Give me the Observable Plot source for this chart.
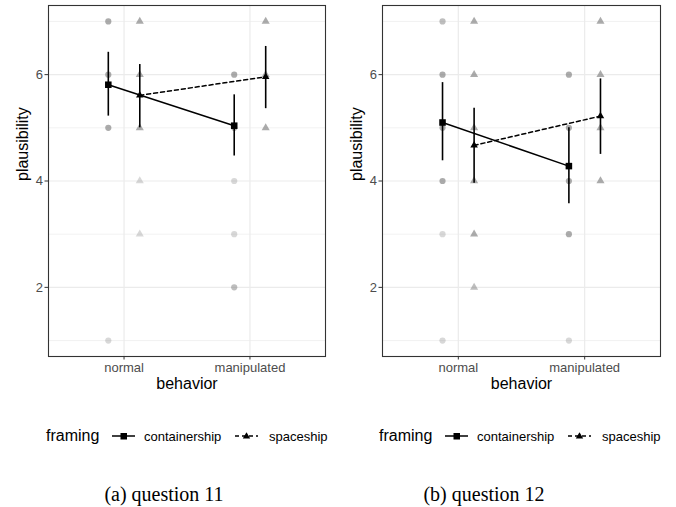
<!DOCTYPE html>
<html>
<head>
<meta charset="utf-8">
<script src="https://cdn.jsdelivr.net/npm/d3@7"></script>
<script src="https://cdn.jsdelivr.net/npm/@observablehq/plot@0.6"></script>
<style>
  html, body { margin: 0; padding: 0; background: #fff; }
  #root { position: relative; width: 676px; height: 507px; background: #fff; overflow: hidden;
          font-family: "Liberation Sans", Arial, Helvetica, sans-serif; }
  .panel { position: absolute; top: 0; }
  .abs { position: absolute; white-space: nowrap; line-height: 1; }
  .ltitle { font-size: 16px; color: #000; }
  .llabel { font-size: 13px; color: #000; }
  .caption { font-family: "Liberation Serif", "Times New Roman", serif; font-size: 20px; color: #000;
             transform: translateX(-50%); }
</style>
</head>
<body>
<div id="root"></div>
<script>
// ---------- data ----------
const behaviors = ["normal", "manipulated"];
const framings = ["containership", "spaceship"];
const yTicks = [2, 4, 6];
const yMinorTicks = [1, 3, 5, 7];
const captions = ["(a) question 11", "(b) question 12"];

// means and 95% CI, order [normal, manipulated]
const q11ContMean = [5.81, 5.04];
const q11ContLow  = [5.22, 4.47];
const q11ContHigh = [6.42, 5.62];
const q11SpaceMean = [5.61, 5.96];
const q11SpaceLow  = [5.00, 5.36];
const q11SpaceHigh = [6.19, 6.53];

const q12ContMean = [5.10, 4.28];
const q12ContLow  = [4.38, 3.57];
const q12ContHigh = [5.85, 5.00];
const q12SpaceMean = [4.67, 5.22];
const q12SpaceLow  = [3.96, 4.50];
const q12SpaceHigh = [5.37, 5.92];

// raw responses: [rating, number of overlapping responses]
const q11ContNormal  = [[7, 3], [6, 3], [5, 3], [1, 1]];
const q11ContManip   = [[6, 3], [5, 3], [4, 1], [3, 1], [2, 2]];
const q11SpaceNormal = [[7, 3], [6, 3], [5, 3], [4, 1], [3, 1]];
const q11SpaceManip  = [[7, 3], [6, 3], [5, 3]];

const q12ContNormal  = [[7, 2], [6, 3], [5, 3], [4, 3], [3, 1], [1, 1]];
const q12ContManip   = [[6, 3], [5, 3], [4, 3], [3, 3], [1, 1]];
const q12SpaceNormal = [[7, 3], [6, 3], [5, 3], [4, 3], [3, 3], [2, 2]];
const q12SpaceManip  = [[7, 3], [6, 3], [5, 3], [4, 3]];

// ---------- build tables ----------
const dodge = {containership: -0.125, spaceship: 0.125};
function rawRows(contN, contM, spaceN, spaceM) {
  const rows = [];
  const add = (arr, framing, bi) => arr.forEach(([v, n]) =>
    rows.push({behavior: behaviors[bi], framing, x: bi + 1 + dodge[framing], value: v, n}));
  add(contN, "containership", 0); add(contM, "containership", 1);
  add(spaceN, "spaceship", 0); add(spaceM, "spaceship", 1);
  return rows;
}
function statRows(cm, cl, ch, sm, sl, sh) {
  const rows = [];
  behaviors.forEach((b, i) => {
    rows.push({behavior: b, framing: "containership", x: i + 1 + dodge.containership, mean: cm[i], lo: cl[i], hi: ch[i]});
  });
  behaviors.forEach((b, i) => {
    rows.push({behavior: b, framing: "spaceship", x: i + 1 + dodge.spaceship, mean: sm[i], lo: sl[i], hi: sh[i]});
  });
  return rows;
}
const q11Raw = rawRows(q11ContNormal, q11ContManip, q11SpaceNormal, q11SpaceManip);
const q12Raw = rawRows(q12ContNormal, q12ContManip, q12SpaceNormal, q12SpaceManip);
const q11Stats = statRows(q11ContMean, q11ContLow, q11ContHigh, q11SpaceMean, q11SpaceLow, q11SpaceHigh);
const q12Stats = statRows(q12ContMean, q12ContLow, q12ContHigh, q12SpaceMean, q12SpaceLow, q12SpaceHigh);

const FONT = '"Liberation Sans", Arial, Helvetica, sans-serif';

function panel(raw, stats, width) {
  const isC = d => d.framing === "containership";
  const isS = d => d.framing === "spaceship";
  return Plot.plot({
    width, height: 400,
    marginLeft: 48, marginRight: 13, marginTop: 5, marginBottom: 44,
    x: {domain: [0.4, 2.6]},
    y: {domain: [0.7, 7.3]},
    style: {fontFamily: FONT, background: "white", overflow: "visible"},
    marks: [
      Plot.gridY({ticks: yMinorTicks, stroke: "#ececec", strokeOpacity: 1, strokeWidth: 0.7}),
      Plot.gridY({ticks: yTicks, stroke: "#ebebeb", strokeOpacity: 1, strokeWidth: 1.2}),
      Plot.gridX({ticks: [1, 2], stroke: "#ebebeb", strokeOpacity: 1, strokeWidth: 1.2}),
      Plot.dot(raw.filter(isC), {x: "x", y: "value", symbol: "circle", r: 3.1, fill: "#7f7f7f",
        fillOpacity: d => 1 - Math.pow(0.7, d.n), stroke: null}),
      Plot.dot(raw.filter(isS), {x: "x", y: "value", symbol: "triangle", r: 3.0, fill: "#7f7f7f",
        fillOpacity: d => 1 - Math.pow(0.7, d.n), stroke: null}),
      Plot.line(stats.filter(isC), {x: "x", y: "mean", stroke: "black", strokeWidth: 1.5}),
      Plot.line(stats.filter(isS), {x: "x", y: "mean", stroke: "black", strokeWidth: 1.5, strokeDasharray: "4,3"}),
      Plot.ruleX(stats, {x: "x", y1: "lo", y2: "hi", stroke: "black", strokeWidth: 1.6}),
      Plot.dot(stats.filter(isC), {x: "x", y: "mean", symbol: "square", r: 3.7, fill: "black", stroke: null}),
      Plot.dot(stats.filter(isS), {x: "x", y: "mean", symbol: "triangle", r: 2.8, fill: "black", stroke: null}),
      Plot.frame({stroke: "#333", strokeWidth: 1.1}),
      Plot.axisX({ticks: [1, 2], tickFormat: d => behaviors[d - 1], tickSize: 3.5, tickPadding: 3,
        fontSize: 13, stroke: "#333", fill: "#4d4d4d", label: null}),
      Plot.axisY({ticks: yTicks, tickFormat: d => String(d), tickSize: 3.5, tickPadding: 2,
        fontSize: 13, stroke: "#333", fill: "#4d4d4d", label: null}),
      Plot.text(["plausibility"], {frameAnchor: "left", dx: -26, rotate: -90, fontSize: 16, fill: "black"}),
      Plot.text(["behavior"], {frameAnchor: "bottom", dy: 32, fontSize: 16, fill: "black"})
    ]
  });
}

const root = document.getElementById("root");
const panels = [
  {raw: q11Raw, stats: q11Stats, left: 0, width: 338, legendLeft: 46, capCenter: 164},
  {raw: q12Raw, stats: q12Stats, left: 334, width: 339, legendLeft: 379, capCenter: 484}
];

function keySvg(type) {
  const ns = "http://www.w3.org/2000/svg";
  const svg = document.createElementNS(ns, "svg");
  svg.setAttribute("width", 24); svg.setAttribute("height", 14);
  const line = document.createElementNS(ns, "line");
  line.setAttribute("x1", 0); line.setAttribute("x2", 23);
  line.setAttribute("y1", 7); line.setAttribute("y2", 7);
  line.setAttribute("stroke", "black"); line.setAttribute("stroke-width", 1.5);
  if (type === "spaceship") line.setAttribute("stroke-dasharray", "4,3");
  svg.appendChild(line);
  if (type === "containership") {
    const r = document.createElementNS(ns, "rect");
    r.setAttribute("x", 8.5); r.setAttribute("y", 4); r.setAttribute("width", 6.5); r.setAttribute("height", 6.5);
    svg.appendChild(r);
  } else {
    const p = document.createElementNS(ns, "path");
    p.setAttribute("d", "M11.5,3.2 L15.2,9.6 L7.8,9.6 Z");
    svg.appendChild(p);
  }
  return svg;
}

panels.forEach(p => {
  const chart = panel(p.raw, p.stats, p.width);
  chart.classList.add("panel");
  chart.style.left = p.left + "px";
  root.appendChild(chart);

  const L = p.legendLeft;
  const mk = (cls, text, left, top) => {
    const s = document.createElement("div");
    s.className = "abs " + cls; s.textContent = text;
    s.style.left = left + "px"; s.style.top = top + "px";
    root.appendChild(s); return s;
  };
  mk("ltitle", "framing", L, 428);
  const k1 = keySvg("containership"); k1.classList.add("abs");
  k1.style.left = (L + 66) + "px"; k1.style.top = "429px"; root.appendChild(k1);
  mk("llabel", framings[0], L + 98, 430);
  const k2 = keySvg("spaceship"); k2.classList.add("abs");
  k2.style.left = (L + 189) + "px"; k2.style.top = "429px"; root.appendChild(k2);
  mk("llabel", framings[1], L + 223, 430);
});

captions.forEach((c, i) => {
  const s = document.createElement("div");
  s.className = "abs caption"; s.textContent = c;
  s.style.left = panels[i].capCenter + "px"; s.style.top = "484px";
  root.appendChild(s);
});
</script>
</body>
</html>
